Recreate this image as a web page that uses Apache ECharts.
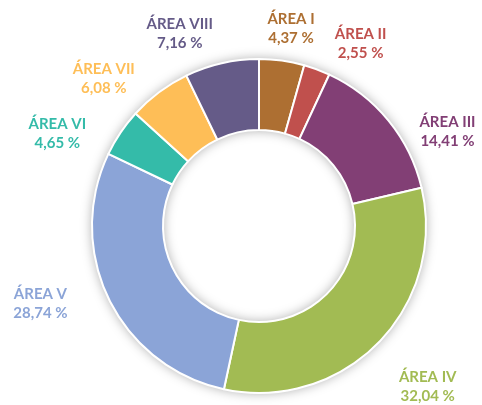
<!DOCTYPE html>
<html>
<head>
<meta charset="utf-8">
<script src="https://cdn.jsdelivr.net/npm/echarts@6/dist/echarts.min.js"></script>
<style>
  html, body { margin: 0; padding: 0; background: #fff; }
  #chart { width: 482px; height: 405px; }
</style>
</head>
<body>
<div id="chart"></div>
<script>
/* Distribución por área (donut) */

var areaNames = ['ÁREA I', 'ÁREA II', 'ÁREA III', 'ÁREA IV', 'ÁREA V', 'ÁREA VI', 'ÁREA VII', 'ÁREA VIII']
var areaShare = [4.37, 2.55, 14.41, 32.04, 28.74, 4.65, 6.08, 7.16]

var sliceColors = ['#AD6F32', '#C0504D', '#823F75', '#A2BB53', '#8BA4D7', '#34BBA9', '#FEBE57', '#655B88']

// layout only: where each label sits, [angle from top in deg, distance from centre in px]
var labelSpots = [[9.2, 200], [29.1, 209], [63.3, 211], [133.6, 233], [250.4, 232], [294.7, 222], [313.5, 214], [337.6, 208]]

var CX = 259, CY = 226

var fmtPct = function (v) {
  return v.toFixed(2).replace('.', ',') + ' %'
}

var chart = echarts.init(document.getElementById('chart'))

chart.setOption({
  animation: false,
  series: [
    {
      // white ring only used to cast the soft shadow
      type: 'pie',
      silent: true,
      center: [CX, CY],
      radius: [96, 167],
      label: {show: false},
      labelLine: {show: false},
      itemStyle: {
        color: '#fff',
        shadowBlur: 12,
        shadowColor: 'rgba(0,0,0,0.35)'
      },
      data: [{value: 1}]
    },
    {
      type: 'pie',
      center: [CX, CY],
      radius: [96, 167],
      startAngle: 90,
      clockwise: true,
      avoidLabelOverlap: false,
      itemStyle: {
        borderColor: '#fff',
        borderWidth: 2
      },
      emphasis: {scale: false},
      labelLine: {show: false},
      label: {
        show: true,
        position: 'outside',
        fontFamily: 'Lato',
        fontWeight: 'bold',
        fontSize: 15,
        lineHeight: 19,
        formatter: function (p) {
          return p.name + '\n' + fmtPct(p.value)
        }
      },
      labelLayout: function (params) {
        var spot = labelSpots[params.dataIndex]
        var a = spot[0] * Math.PI / 180
        return {
          x: CX + spot[1] * Math.sin(a),
          y: CY - spot[1] * Math.cos(a),
          align: 'center',
          verticalAlign: 'middle'
        }
      },
      data: areaNames.map(function (name, i) {
        return {
          name: name,
          value: areaShare[i],
          itemStyle: {color: sliceColors[i]},
          label: {color: sliceColors[i]}
        }
      })
    }
  ]
})
</script>
</body>
</html>
